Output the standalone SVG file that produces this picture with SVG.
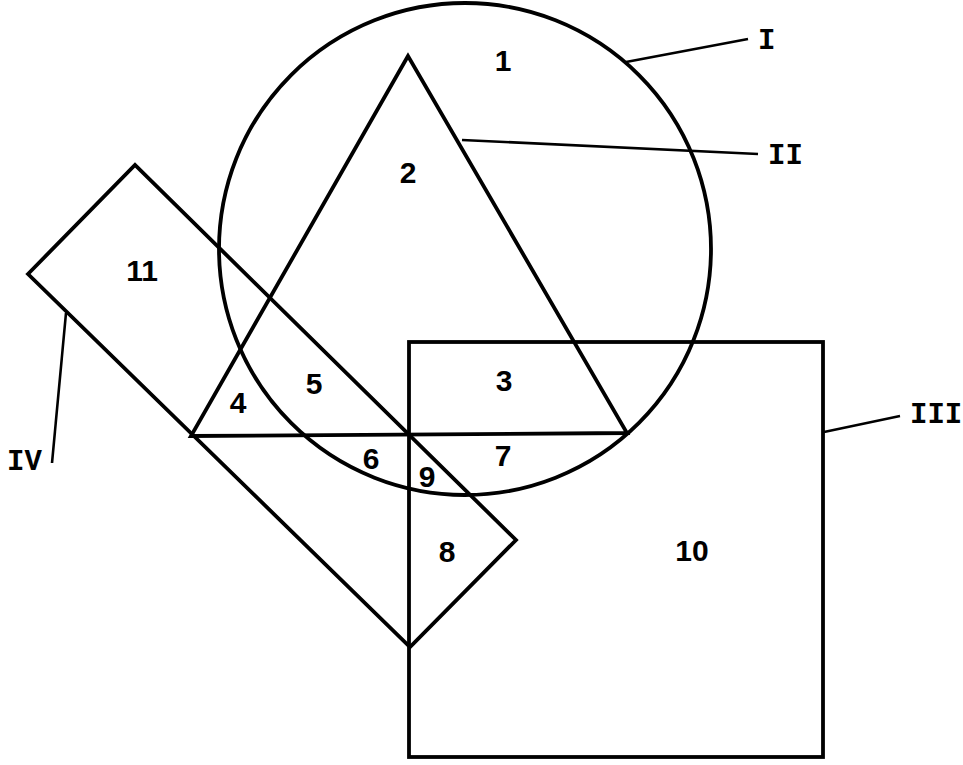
<svg xmlns="http://www.w3.org/2000/svg" width="963" height="765" viewBox="0 0 963 765">
<style>
.s{fill:none;stroke:#000;stroke-width:3.8;stroke-linejoin:miter}
.l{fill:none;stroke:#000;stroke-width:2.6}
.n{font-family:"Liberation Sans",Arial,sans-serif;font-weight:bold;font-size:30px;text-anchor:middle;fill:#000}
.r{font-family:"Liberation Mono","Courier New",monospace;font-weight:bold;font-size:29px;fill:#000}
</style>
<rect width="963" height="765" fill="#fff"/>
<g id="circle-I"><circle class="s" cx="465" cy="249" r="246"/></g>
<g id="triangle-II"><polygon class="s" points="408,56 191,436 627,433"/></g>
<g id="square-III"><rect class="s" x="409" y="342" width="414" height="415"/></g>
<g id="rect-IV"><polygon class="s" points="28,274 135,165 516,540 410,647"/></g>
<g id="connectors">
<line class="l" x1="626" y1="62" x2="748" y2="39"/>
<line class="l" x1="462" y1="140" x2="758" y2="154"/>
<line class="l" x1="824" y1="432" x2="900" y2="416"/>
<line class="l" x1="66" y1="313" x2="52" y2="463"/>
</g>
<g id="roman-labels">
<text class="r" x="758" y="49">I</text>
<text class="r" x="768" y="164">II</text>
<text class="r" x="910" y="423">III</text>
<text class="r" x="7" y="470">IV</text>
</g>
<g id="region-labels">
<text class="n" x="503" y="71">1</text>
<text class="n" x="408" y="183">2</text>
<text class="n" x="504" y="391">3</text>
<text class="n" x="238" y="413">4</text>
<text class="n" x="314" y="394">5</text>
<text class="n" x="371" y="469">6</text>
<text class="n" x="503" y="466">7</text>
<text class="n" x="447" y="562">8</text>
<text class="n" x="427" y="487">9</text>
<text class="n" x="692" y="561">10</text>
<text class="n" x="142" y="281">11</text>
</g>
</svg>
